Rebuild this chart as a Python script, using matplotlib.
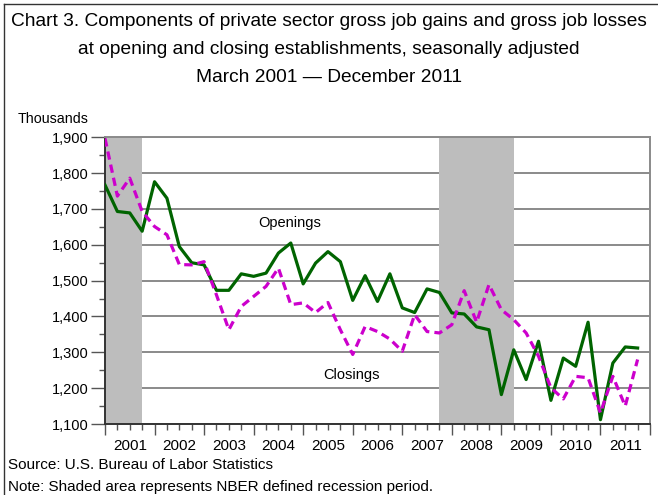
import numpy as np
import matplotlib
matplotlib.use("Agg")
import matplotlib.pyplot as plt
from matplotlib.lines import Line2D
import matplotlib.transforms as mtransforms

plt.rcParams['font.family'] = ['Liberation Sans', 'DejaVu Sans']

# quarterly values, March 2001 .. December 2011 (thousands)
openings = [1767, 1693, 1689, 1638, 1776, 1730, 1595, 1550, 1544, 1473, 1473,
            1519, 1512, 1521, 1577, 1605, 1491, 1549, 1581, 1553, 1445, 1514,
            1442, 1519, 1424, 1411, 1477, 1467, 1410, 1407, 1371, 1363, 1182,
            1307, 1224, 1331, 1166, 1284, 1261, 1384, 1112, 1270, 1315, 1312]
closings = [1897, 1736, 1786, 1693, 1651, 1628, 1545, 1544, 1553, 1460, 1363,
            1428, 1456, 1484, 1535, 1433, 1438, 1411, 1439, 1363, 1294, 1372,
            1358, 1337, 1303, 1405, 1358, 1354, 1377, 1472, 1384, 1489, 1419,
            1391, 1354, 1289, 1201, 1170, 1233, 1229, 1131, 1233, 1150, 1280]
years = [2001, 2002, 2003, 2004, 2005, 2006, 2007, 2008, 2009, 2010, 2011]
# recessions as (first quarter index, last quarter index)
recessions = [(0, 3), (27, 33)]
yticks = [1100, 1200, 1300, 1400, 1500, 1600, 1700, 1800, 1900]

fig = plt.figure(figsize=(6.58, 4.95), dpi=100)
ax = fig.add_axes([105/658, 1-424/495, 545/658, (424-137.3)/495])

x = np.arange(len(openings))
for a, b in recessions:
    ax.axvspan(a, b, color='#bdbdbd', lw=0, zorder=1)

ax.plot(x, openings, color='#006400', lw=2.3, zorder=3)
ax.plot(x, closings, color='#cc00cc', lw=2.3, zorder=3,
        dashes=(2.6, 1.6), dash_capstyle='butt')

ax.set_xlim(0, 44)
ax.set_ylim(1100, 1900)
ax.set_yticks(yticks)
ax.set_yticklabels([f"{v:,}" for v in yticks], fontsize=10.5)
ax.set_yticks(np.arange(1150, 1900, 100), minor=True)
ax.set_xticks(np.arange(0, 45, 4))
ax.set_xticklabels([])
ax.set_xticks(np.arange(0, 45, 1), minor=True)

ax.yaxis.grid(True, which='major', color='#8a8a8a', lw=1.4)
ax.set_axisbelow(True)
ax.tick_params(axis='y', which='major', length=10, width=1, color='#555555', pad=2)
ax.tick_params(axis='y', which='minor', length=4.3, width=1, color='#555555')
ax.tick_params(axis='x', which='major', length=8, width=1, color='#555555')
ax.tick_params(axis='x', which='minor', length=4.5, width=1, color='#555555')

for s in ['left', 'bottom']:
    ax.spines[s].set_color('#333333')
    ax.spines[s].set_linewidth(1.4)
for s in ['top', 'right']:
    ax.spines[s].set_color('#8a8a8a')
    ax.spines[s].set_linewidth(1.4)

trans = mtransforms.blended_transform_factory(ax.transData, ax.transAxes)
for k, yr in enumerate(years):
    ax.text(4*k + 2, -0.078, str(yr), transform=trans, ha='center', va='center',
            fontsize=11)

ax.text(14.9, 1661, "Openings", ha='center', va='center', fontsize=10.5, zorder=4)
ax.text(19.9, 1238, "Closings", ha='center', va='center', fontsize=10.5, zorder=4)

fig.text(18/658, 1-119/495, "Thousands", ha='left', va='center', fontsize=10.3)

fig.text(0.5, 1-21/495, "Chart 3. Components of private sector gross job gains and gross job losses",
         ha='center', va='center', fontsize=13.8)
fig.text(0.5, 1-49/495, "at opening and closing establishments, seasonally adjusted",
         ha='center', va='center', fontsize=13.8)
fig.text(0.5, 1-77/495, "March 2001 \u2014 December 2011",
         ha='center', va='center', fontsize=13.8)

fig.text(8/658, 1-465/495, "Source: U.S. Bureau of Labor Statistics",
         ha='left', va='center', fontsize=11)
fig.text(8/658, 1-487/495, "Note: Shaded area represents NBER defined recession period.",
         ha='left', va='center', fontsize=11)

# frame lines at left and top of the image
fig.add_artist(Line2D([4/658, 4/658], [0, 1-4/495], transform=fig.transFigure,
                      color='#333333', lw=1))
fig.add_artist(Line2D([4/658, 1], [1-4/495, 1-4/495], transform=fig.transFigure,
                      color='#333333', lw=1))

fig.savefig("out.png", dpi=100)
